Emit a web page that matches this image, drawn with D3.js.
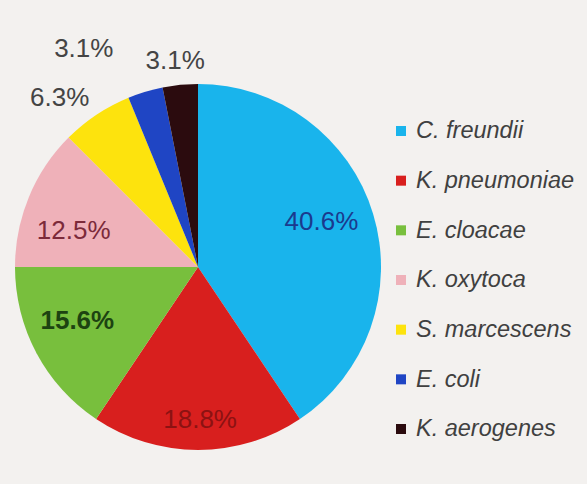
<!DOCTYPE html>
<html>
<head>
<meta charset="utf-8">
<script src="https://cdn.jsdelivr.net/npm/d3@7"></script>
<style>
  html, body { margin: 0; padding: 0; background: #f3f1ef; }
  svg { display: block; }
</style>
</head>
<body>
<svg id="chart" width="587" height="484"></svg>
<script>
// Species share of isolates (%)
const species = ["C. freundii", "K. pneumoniae", "E. cloacae", "K. oxytoca", "S. marcescens", "E. coli", "K. aerogenes"];
const shares = [40.6, 18.8, 15.6, 12.5, 6.3, 3.1, 3.1];
const percentLabels = ["40.6%", "18.8%", "15.6%", "12.5%", "6.3%", "3.1%", "3.1%"];

const sliceColors = ["#19b4ec", "#d81f1e", "#78bf3d", "#efb1b9", "#fde30d", "#1f45c4", "#2b0b0e"];
const labelColors = ["#1b3a8e", "#8c1212", "#1d4311", "#7c2a3a", "#444444", "#444444", "#444444"];

// label placement: radius as a fraction of the pie radius, angle tweak in degrees
const labelPlace = {
  "C. freundii":   { r: 0.72, da: -3.5, weight: "normal" },
  "K. pneumoniae": { r: 0.83, da: -0.8, weight: "normal" },
  "E. cloacae":    { r: 0.72, da: 4.4, weight: "bold" },
  "K. oxytoca":    { r: 0.71, da: -5.6, weight: "normal" },
  "S. marcescens": { r: 1.20, da: -5.4, weight: "normal" },
  "E. coli":       { r: 1.35, da: -10.8, weight: "normal" },
  "K. aerogenes":  { r: 1.14, da: -0.7, weight: "normal" }
};

const svg = d3.select("#chart");
const cx = 198, cy = 267, R = 183;

const pie = d3.pie().sort(null).value(d => d.value);
const data = species.map((name, i) => ({ name, value: shares[i], label: percentLabels[i], i }));
const arcs = pie(data);

const arc = d3.arc().innerRadius(0).outerRadius(R);
const color = d3.scaleOrdinal().domain(species).range(sliceColors);

const g = svg.append("g").attr("transform", `translate(${cx},${cy})`);

g.selectAll("path.slice")
  .data(arcs)
  .join("path")
  .attr("class", "slice")
  .attr("d", arc)
  .attr("fill", d => color(d.data.name));

// percentage labels
g.selectAll("text.pct")
  .data(arcs)
  .join("text")
  .attr("class", "pct")
  .attr("transform", d => {
    const p = labelPlace[d.data.name];
    const a = (d.startAngle + d.endAngle) / 2 + p.da * Math.PI / 180;
    const r = p.r * R;
    return `translate(${r * Math.sin(a)},${-r * Math.cos(a)})`;
  })
  .attr("text-anchor", "middle")
  .attr("dy", "0.36em")
  .attr("font-family", "'Liberation Sans', Arial, sans-serif")
  .attr("font-size", 26)
  .attr("font-weight", d => labelPlace[d.data.name].weight)
  .attr("fill", d => labelColors[d.data.i])
  .text(d => d.data.label);

// legend
const legend = svg.append("g").attr("transform", "translate(396,130)");
const rowY = d3.scalePoint().domain(species).range([0, 298]);

const rows = legend.selectAll("g.row")
  .data(species)
  .join("g")
  .attr("class", "row")
  .attr("transform", d => `translate(0,${rowY(d)})`);

rows.append("rect")
  .attr("x", 0)
  .attr("y", -4)
  .attr("width", 10)
  .attr("height", 10)
  .attr("fill", d => color(d));

rows.append("text")
  .attr("x", 20)
  .attr("dy", "0.35em")
  .attr("font-family", "'Liberation Sans', Arial, sans-serif")
  .attr("font-style", "italic")
  .attr("font-size", 23.5)
  .attr("fill", "#404040")
  .text(d => d);
</script>
</body>
</html>
